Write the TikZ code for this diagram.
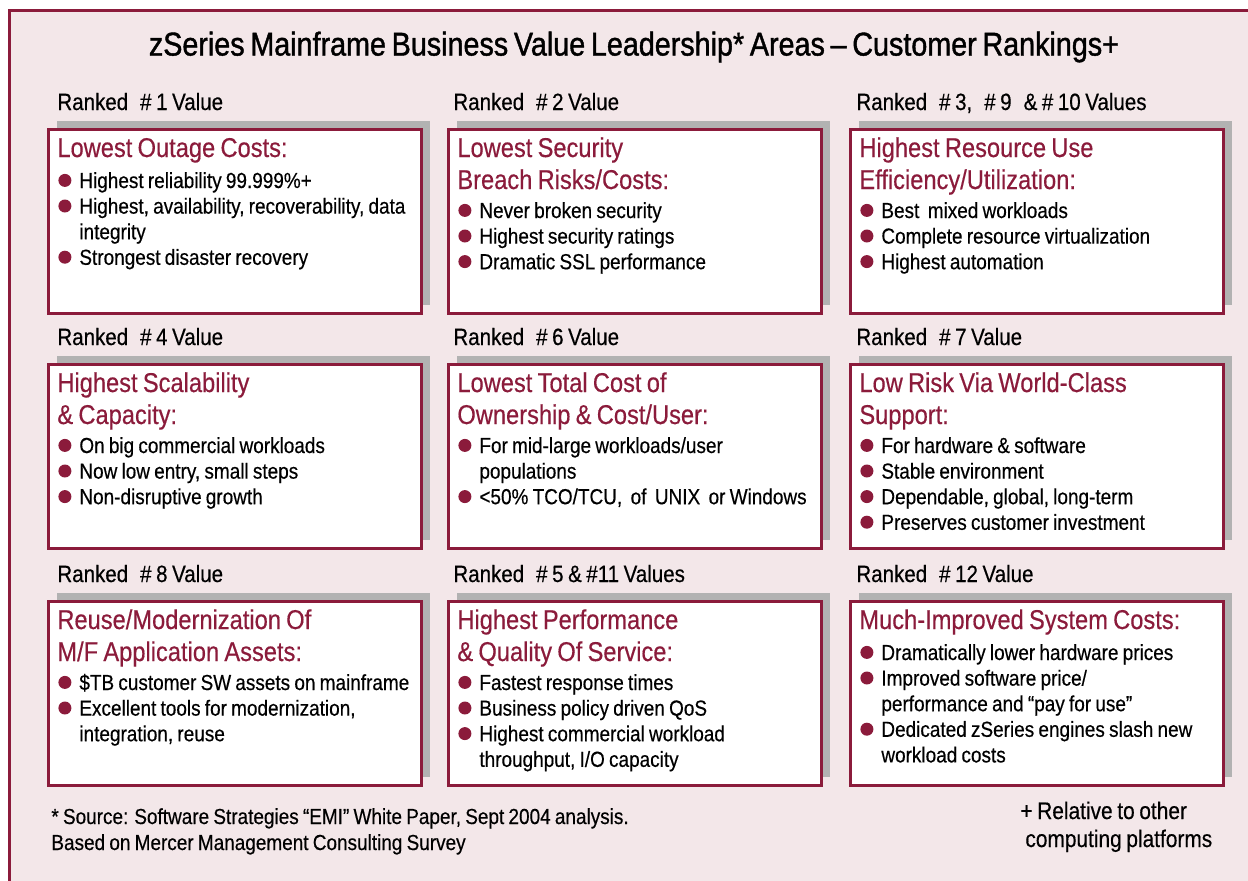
\documentclass[tikz,border=0pt]{standalone}
\usepackage{fontspec}
\setmainfont{Liberation Sans}[FakeStretch=0.87, WordSpace=0.8, FakeBold=0.4]
\newfontfamily\titlefont{Liberation Sans}[FakeStretch=0.87, WordSpace=0.72, FakeBold=1.2]
\usetikzlibrary{shadows}

\definecolor{wine}{RGB}{139,27,59}
\definecolor{paper}{RGB}{243,231,233}
\definecolor{shade}{RGB}{178,178,178}

\newcommand\bul{\tikz[baseline=0pt]\fill[wine] (3.25pt,3.8pt) circle[radius=3.25pt];}
\newcommand\blist[1]{\begin{tabular}[t]{@{}l@{\hspace{4pt}}l@{}}#1\end{tabular}}
\newcommand\gap{\hspace{6pt}}

\begin{document}
\begin{tikzpicture}[
    x=0.5pt, y=-0.5pt,
    valbox/.style={draw=wine, line width=1.5pt, fill=white, anchor=north west,
        minimum width=186.5pt, minimum height=92pt, inner sep=0pt,
        copy shadow={shadow xshift=4.25pt, shadow yshift=4.25pt, fill=shade, draw=none}},
    rank/.style={anchor=base west, inner sep=0pt, font=\fontsize{11.8}{13}\selectfont},
    head/.style={anchor=base west, inner sep=0pt, text=wine, text width=182pt, align=flush left,
        font=\fontsize{13.6}{16}\selectfont},
    items/.style={anchor=base west, inner sep=0pt, font=\fontsize{10.9}{12.8}\selectfont}
]
\useasboundingbox (0,0) rectangle (1248,880);
\fill[white] (0,0) rectangle (1248,880);
\draw[wine, line width=1.5pt, fill=paper] (9.5,10.5) rectangle (1275,905);

\node[font=\titlefont\fontsize{16.5}{19}\selectfont] (title) at (634,47)
    {zSeries Mainframe Business Value Leadership* Areas – Customer Rankings+};

% top row
\node[valbox] (b1) at (47,128) {};
\node[valbox] (b2) at (447,128) {};
\node[valbox] (b3) at (849,128) {};
\node[rank] (r1) at ([shift={(10,-18)}]b1.north west) {Ranked\gap\# 1 Value};
\node[rank] (r2) at ([shift={(6,-18)}]b2.north west) {Ranked\gap\# 2 Value};
\node[rank] (r3) at ([shift={(7,-18)}]b3.north west) {Ranked\gap\# 3,\gap\# 9\gap\& \# 10 Values};
\node[head] (h1) at ([shift={(10,29)}]b1.north west) {Lowest Outage Costs:};
\node[head] (h2) at ([shift={(10,29)}]b2.north west) {Lowest Security\\Breach Risks/Costs:};
\node[head] (h3) at ([shift={(10,29)}]b3.north west) {Highest Resource Use\\Efficiency/Utilization:};
\node[items] (l1) at ([shift={(11,60)}]b1.north west) {\blist{
    \bul & Highest reliability 99.999\%+\\
    \bul & Highest, availability, recoverability, data\\
         & integrity\\
    \bul & Strongest disaster recovery}};
\node[items] (l2) at ([shift={(11,90)}]b2.north west) {\blist{
    \bul & Never broken security\\
    \bul & Highest security ratings\\
    \bul & Dramatic SSL performance}};
\node[items] (l3) at ([shift={(11,90)}]b3.north west) {\blist{
    \bul & Best~~mixed workloads\\
    \bul & Complete resource virtualization\\
    \bul & Highest automation}};

% middle row
\node[valbox] (b4) at (47,363) {};
\node[valbox] (b5) at (447,363) {};
\node[valbox] (b6) at (849,363) {};
\node[rank] (r4) at ([shift={(10,-18)}]b4.north west) {Ranked\gap\# 4 Value};
\node[rank] (r5) at ([shift={(6,-18)}]b5.north west) {Ranked\gap\# 6 Value};
\node[rank] (r6) at ([shift={(7,-18)}]b6.north west) {Ranked\gap\# 7 Value};
\node[head] (h4) at ([shift={(10,29)}]b4.north west) {Highest Scalability\\\& Capacity:};
\node[head] (h5) at ([shift={(10,29)}]b5.north west) {Lowest Total Cost of\\Ownership \& Cost/User:};
\node[head] (h6) at ([shift={(10,29)}]b6.north west) {Low Risk Via World-Class\\Support:};
\node[items] (l4) at ([shift={(11,90)}]b4.north west) {\blist{
    \bul & On big commercial workloads\\
    \bul & Now low entry, small steps\\
    \bul & Non-disruptive growth}};
\node[items] (l5) at ([shift={(11,90)}]b5.north west) {\blist{
    \bul & For mid-large workloads/user\\
         & populations\\
    \bul & <50\% TCO/TCU,~~of~~UNIX~~or Windows}};
\node[items] (l6) at ([shift={(11,90)}]b6.north west) {\blist{
    \bul & For hardware \& software\\
    \bul & Stable environment\\
    \bul & Dependable, global, long-term\\
    \bul & Preserves customer investment}};

% bottom row
\node[valbox] (b7) at (47,600) {};
\node[valbox] (b8) at (447,600) {};
\node[valbox] (b9) at (849,600) {};
\node[rank] (r7) at ([shift={(10,-18)}]b7.north west) {Ranked\gap\# 8 Value};
\node[rank] (r8) at ([shift={(6,-18)}]b8.north west) {Ranked\gap\# 5 \& \#11 Values};
\node[rank] (r9) at ([shift={(7,-18)}]b9.north west) {Ranked\gap\# 12 Value};
\node[head] (h7) at ([shift={(10,29)}]b7.north west) {Reuse/Modernization Of\\M/F Application Assets:};
\node[head] (h8) at ([shift={(10,29)}]b8.north west) {Highest Performance\\\& Quality Of Service:};
\node[head] (h9) at ([shift={(10,29)}]b9.north west) {Much-Improved System Costs:};
\node[items] (l7) at ([shift={(11,90)}]b7.north west) {\blist{
    \bul & \$TB customer SW assets on mainframe\\
    \bul & Excellent tools for modernization,\\
         & integration, reuse}};
\node[items] (l8) at ([shift={(11,90)}]b8.north west) {\blist{
    \bul & Fastest response times\\
    \bul & Business policy driven QoS\\
    \bul & Highest commercial workload\\
         & throughput, I/O capacity}};
\node[items] (l9) at ([shift={(11,60)}]b9.north west) {\blist{
    \bul & Dramatically lower hardware prices\\
    \bul & Improved software price/\\
         & performance and “pay for use”\\
    \bul & Dedicated zSeries engines slash new\\
         & workload costs}};

% notes
\node[anchor=base west, inner sep=0pt, text width=320pt, align=flush left,
      font=\fontsize{10.9}{13}\selectfont] (src) at (51,824)
    {* Source: Software Strategies “EMI” White Paper, Sept 2004 analysis.\\
     Based on Mercer Management Consulting Survey};
\node[anchor=base west, inner sep=0pt, text width=130pt, align=flush left,
      font=\fontsize{12}{14}\selectfont] (rel) at (1020,819)
    {+ Relative to other\\\hspace*{2.5pt}computing platforms};
\end{tikzpicture}
\end{document}
